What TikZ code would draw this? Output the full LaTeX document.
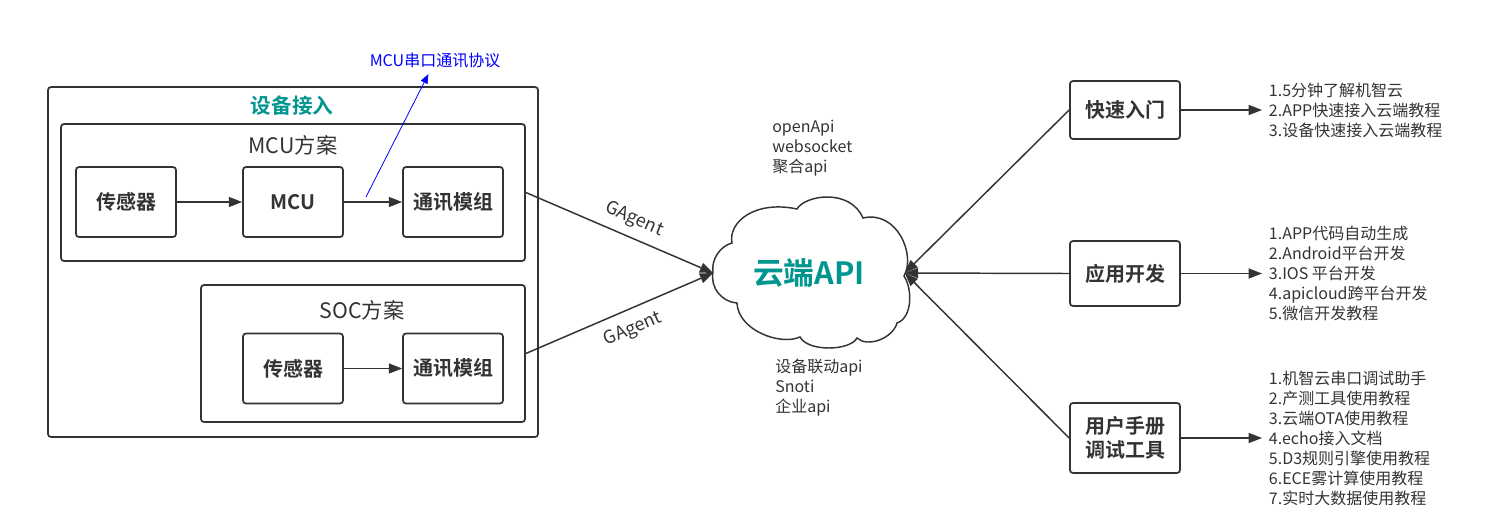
\documentclass[tikz,border=0pt]{standalone}
\usepackage{fontspec}
\setmainfont{Noto Sans CJK SC}[BoldFont={Noto Sans CJK SC Bold}]
\usepackage{tikz}
\usetikzlibrary{arrows.meta}
\definecolor{linegray}{HTML}{333333}
\definecolor{apiteal}{HTML}{00968F}
\definecolor{noteblue}{HTML}{0000FF}

\begin{document}
\begin{tikzpicture}[x=0.75pt,y=0.75pt,yscale=-1,xscale=1,
  every node/.style={text=linegray},
  frame/.style={draw=linegray,line width=1.3pt,rounded corners=2.25pt},
  plan/.style={frame,minimum height=102.75pt},
  unit/.style={frame,minimum width=75pt,minimum height=52.5pt,font=\fontsize{15}{18}\selectfont\bfseries},
  guide/.style={frame,minimum width=82.5pt,align=center,font=\fontsize{15}{17.5}\selectfont\bfseries},
  caption/.style={inner sep=0.75pt,font=\fontsize{16}{19}\selectfont},
  note/.style={align=left,inner sep=0.75pt,font=\fontsize{12}{15}\selectfont},
  gagent/.style={inner xsep=0.75pt,inner ysep=6pt,font=\fontsize{13.5}{16}\selectfont},
  flow/.style={draw=linegray,line width=1.1pt,-{Triangle[length=10pt,width=7.5pt]}}]
\useasboundingbox (0,0) rectangle (1504,504);

%Shape: Rectangle
\draw [frame] (48,87) rectangle (538,437);
% Text Node
\node (devtitle) [caption,text=apiteal,font=\fontsize{15.5}{19}\selectfont\bfseries] at (292,106) {设备接入};

%Shape: Rectangle
\node (mcuplan) [plan,minimum width=348pt] at (293,192.5) {};
\node (mcutitle) [caption] at (293,145) {MCU方案};
\node (sensora) [unit] at (126,202) {传感器};
\node (mcu) [unit] at (293,202) {MCU};
\node (comma) [unit] at (453,202) {通讯模组};

%Shape: Rectangle
\node (socplan) [plan,minimum width=243pt] at (363,353.5) {};
\node (soctitle) [caption] at (362,310) {SOC方案};
\node (sensorb) [unit] at (293,368.5) {传感器};
\node (commb) [unit] at (453,368.5) {通讯模组};

%Straight Lines
\draw [flow] (sensora) -- (mcu);
\draw [flow] (mcu) -- (comma);
\draw [flow] (sensorb) -- (commb);

% Text Node
\node (uartnote) [note,text=noteblue,inner ysep=4pt] at (435,61) {MCU串口通讯协议};
\coordinate (tap) at (366,197);
\draw [draw=noteblue,line width=0.6pt,-{Triangle[length=7pt,width=5.5pt]}] (tap) -- (uartnote);

%Shape: Cloud
\draw [draw=linegray,line width=1.1pt] (713,272) .. controls (711,260) and (720,246) .. (732,243)
  .. controls (728,222) and (755,200) .. (797,209)
  .. controls (805,195) and (850,188) .. (863,218)
  .. controls (897,210) and (916,255) .. (904,276)
  .. controls (913,290) and (912,318) .. (897,323)
  .. controls (893,338) and (868,348) .. (857,338)
  .. controls (850,351) and (808,352) .. (800,337)
  .. controls (780,346) and (738,330) .. (737,303)
  .. controls (722,302) and (710,288) .. (713,272) -- cycle;
\node (api) [minimum width=143.25pt,minimum height=100pt,text=apiteal,font=\fontsize{23}{27}\selectfont\bfseries] at (809,273) {云端API};

% Text Node
\node (upperapis) [note,anchor=west] at (771,148.5) {openApi\\websocket\\聚合api};
% Text Node
\node (lowerapis) [note,anchor=west] at (774,387.5) {设备联动api\\Snoti\\企业api};

%Straight Lines
\draw [flow] (mcuplan.east) -- node [gagent,pos=0.54,rotate=-23.4,anchor=south] {GAgent} (api.west);
\draw [flow] (socplan.east) -- node [gagent,pos=0.53,rotate=22.9,anchor=north,inner ysep=8pt] {GAgent} (api.west);

%Shape: Rectangle
\node (quick) [guide,minimum height=43.5pt] at (1125,110) {快速入门};
\node (appdev) [guide,minimum height=48.75pt] at (1125,273.5) {应用开发};
\node (manual) [guide,minimum height=52.5pt] at (1125,438) {用户手册\\调试工具};

\draw [flow] (quick.west) -- (api.east);
\draw [flow] (appdev.west) -- (api.east);
\draw [flow] (manual.west) -- (api.east);

% Text Node
\node (quicklist) [note,anchor=west,inner xsep=5pt] at (1262,110) {1.5分钟了解机智云\\2.APP快速接入云端教程\\3.设备快速接入云端教程};
% Text Node
\node (devlist) [note,anchor=west,inner xsep=5pt] at (1262,273.5) {1.APP代码自动生成\\2.Android平台开发\\3.IOS 平台开发\\4.apicloud跨平台开发\\5.微信开发教程};
% Text Node
\node (toollist) [note,anchor=west,inner xsep=5pt] at (1262,438) {1.机智云串口调试助手\\2.产测工具使用教程\\3.云端OTA使用教程\\4.echo接入文档\\5.D3规则引擎使用教程\\6.ECE雾计算使用教程\\7.实时大数据使用教程};

\draw [flow] (quick.east) -- (quicklist.west);
\draw [flow] (appdev.east) -- (devlist.west);
\draw [flow] (manual.east) -- (toollist.west);

\end{tikzpicture}
\end{document}
